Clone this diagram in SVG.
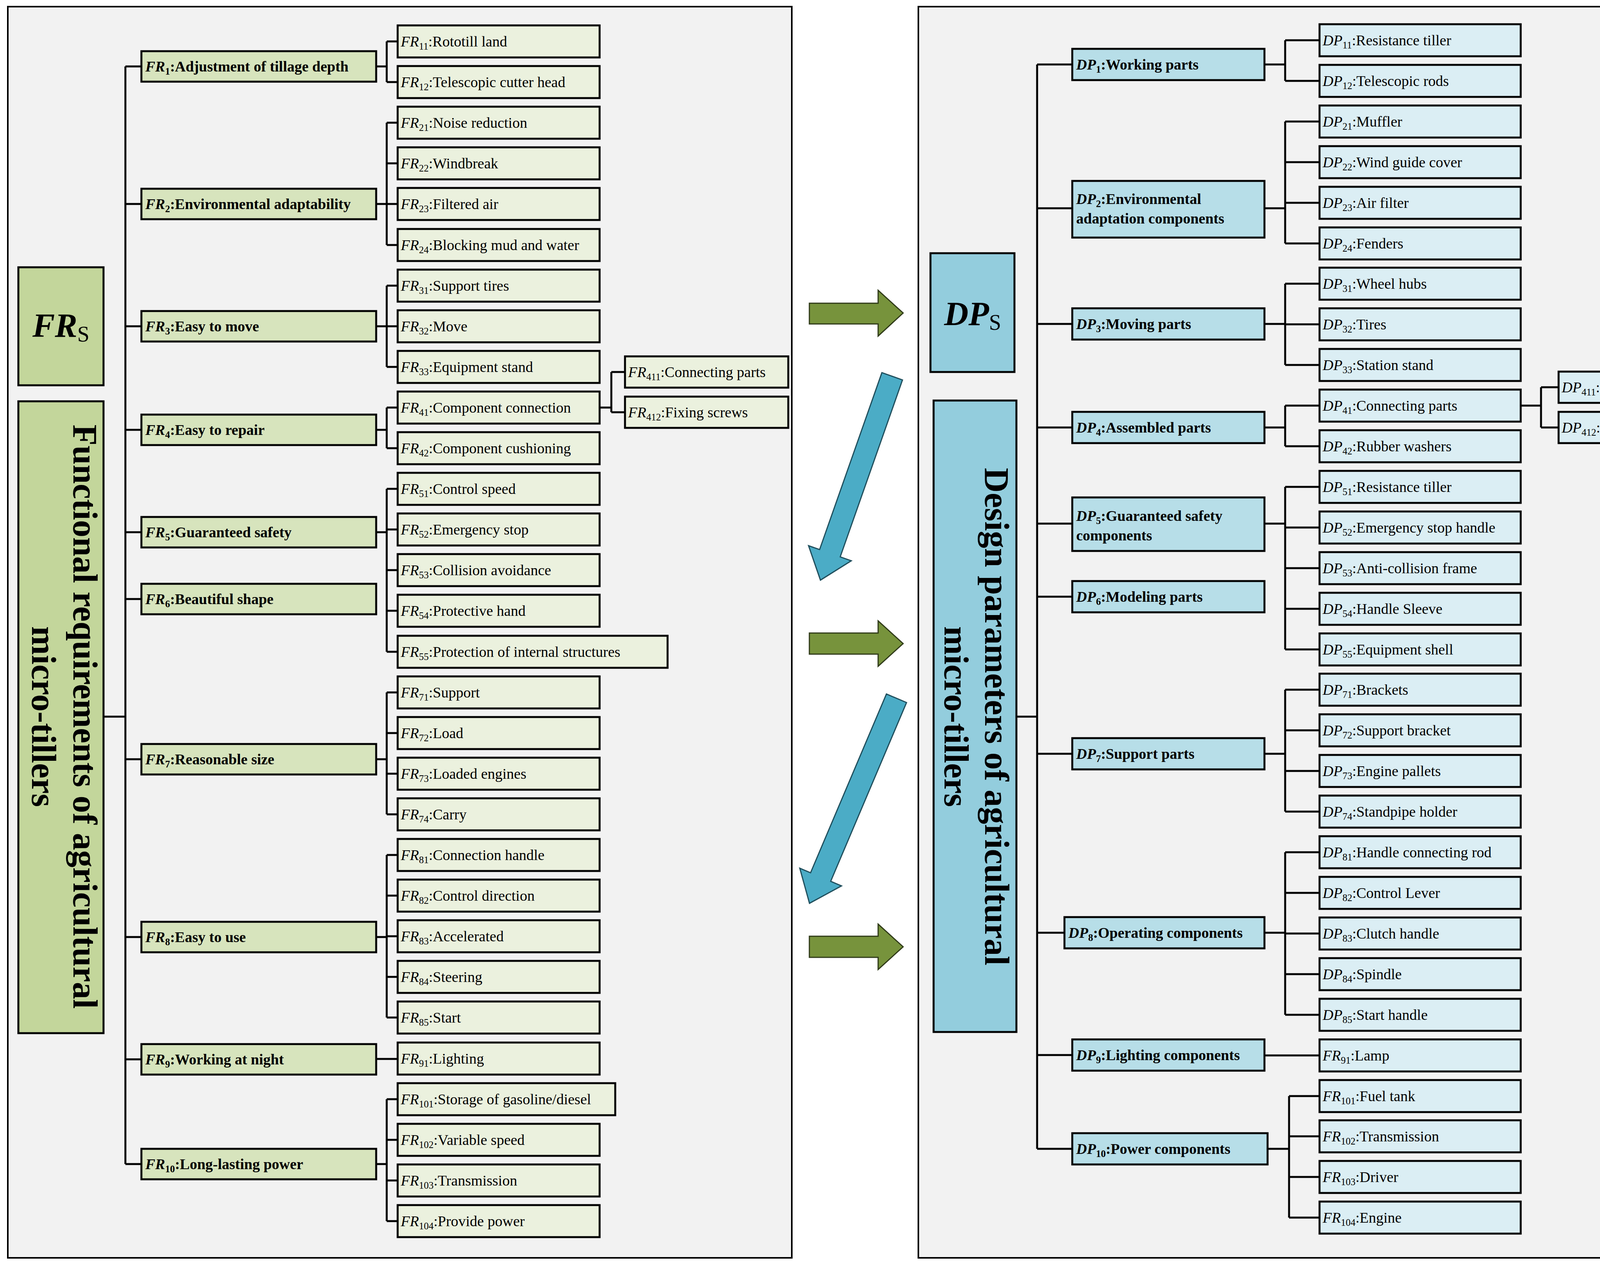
<svg xmlns="http://www.w3.org/2000/svg" width="4378" height="3245" viewBox="0 0 4378 3245">
<style>
text{font-family:"Liberation Serif","Times New Roman",serif;fill:#000}
.t{font-size:38px}
.b{font-size:38px;font-weight:bold}
.i{font-style:italic}
.s{font-size:25px}
.l1{fill:#d7e4bd;stroke:#000;stroke-width:5}
.lf{fill:#ebf1de;stroke:#000;stroke-width:5}
.d1{fill:#b7dee8;stroke:#000;stroke-width:5}
.df{fill:#dbeef4;stroke:#000;stroke-width:5}
.c{fill:none;stroke:#000;stroke-width:5}
.ga{fill:#77933c;stroke:#2f3a18;stroke-width:3}
.ba{fill:#4bacc6;stroke:#1f4e5c;stroke-width:3}
.tt{font-size:88px;font-weight:bold}
</style>
<rect x="20" y="17" width="2007" height="3202" fill="#f2f2f2" stroke="#000" stroke-width="4"/>
<rect x="2351" y="17" width="2004" height="3202" fill="#f2f2f2" stroke="#000" stroke-width="4"/>

<g id="connectors">
<path class="c" d="M265 1834H321M321 170V2979M321 170H362M321 522H362M321 835H362M321 1100H362M321 1362H362M321 1533H362M321 1943H362M321 2398H362M321 2711H362M321 2979H362"/>
<path class="c" d="M963 170H990M990 106V210M990 106H1018M990 210H1018"/>
<path class="c" d="M963 522H990M990 314V627M990 314H1018M990 418H1018M990 522H1018M990 627H1018"/>
<path class="c" d="M963 835H990M990 731V939M990 731H1018M990 835H1018M990 939H1018"/>
<path class="c" d="M963 1100H990M990 1043V1147M990 1043H1018M990 1147H1018"/>
<path class="c" d="M1535 1043H1565M1565 952V1055M1565 952H1600M1565 1055H1600"/>
<path class="c" d="M963 1362H990M990 1251V1668M990 1251H1018M990 1355H1018M990 1459H1018M990 1563H1018M990 1668H1018"/>
<path class="c" d="M963 1943H990M990 1772V2084M990 1772H1018M990 1876H1018M990 1980H1018M990 2084H1018"/>
<path class="c" d="M963 2398H990M990 2188V2604M990 2188H1018M990 2292H1018M990 2396H1018M990 2500H1018M990 2604H1018"/>
<path class="c" d="M963 2710H1018"/>
<path class="c" d="M963 2979H990M990 2813V3125M990 2813H1018M990 2917H1018M990 3021H1018M990 3125H1018"/>

<path class="c" d="M2602 1834H2655M2655 165V2940M2655 165H2745M2655 533H2745M2655 829H2745M2655 1094H2745M2655 1340H2745M2655 1527H2745M2655 1929H2745M2655 2387H2725M2655 2700H2745M2655 2940H2745"/>
<path class="c" d="M3237 165H3290M3290 103V207M3290 103H3378M3290 207H3378"/>
<path class="c" d="M3237 533H3290M3290 311V623M3290 311H3378M3290 415H3378M3290 519H3378M3290 623H3378"/>
<path class="c" d="M3237 829H3290M3290 726V934M3290 726H3378M3290 830H3378M3290 934H3378"/>
<path class="c" d="M3237 1094H3290M3290 1038V1142M3290 1038H3378M3290 1142H3378"/>
<path class="c" d="M3893 1038H3945M3945 991V1094M3945 991H3990M3945 1094H3990"/>
<path class="c" d="M3237 1340H3290M3290 1246V1662M3290 1246H3378M3290 1350H3378M3290 1454H3378M3290 1558H3378M3290 1662H3378"/>
<path class="c" d="M3237 1929H3290M3290 1765V2077M3290 1765H3378M3290 1869H3378M3290 1973H3378M3290 2077H3378"/>
<path class="c" d="M3237 2387H3290M3290 2181V2597M3290 2181H3378M3290 2285H3378M3290 2389H3378M3290 2493H3378M3290 2597H3378"/>
<path class="c" d="M3237 2701H3378"/>
<path class="c" d="M3245 2940H3300M3300 2805V3116M3300 2805H3378M3300 2908H3378M3300 3012H3378M3300 3116H3378"/>
</g>

<g id="FRs"><rect x="47" y="684" width="218" height="302" fill="#c3d69b" stroke="#000" stroke-width="5"/><text x="156" y="862" text-anchor="middle" style="font-size:86px;font-weight:bold"><tspan class="i">FR</tspan><tspan style="font-size:56px;font-weight:normal" dy="12">S</tspan></text></g>
<g id="FRtitle"><rect x="47" y="1027" width="218" height="1617" fill="#c3d69b" stroke="#000" stroke-width="5"/>
<text class="tt" text-anchor="middle" transform="translate(188,1834) rotate(90)">Functional requirements of agricultural</text>
<text class="tt" text-anchor="middle" transform="translate(82,1834) rotate(90)">micro-tillers</text></g>

<g id="FR1"><rect class="l1" x="362" y="131" width="601" height="78"/><text class="b" x="372" y="183"><tspan class="i">FR</tspan><tspan class="s" dy="8">1</tspan><tspan dy="-8">:Adjustment of tillage depth</tspan></text></g>
<g id="FR2"><rect class="l1" x="362" y="483" width="601" height="78"/><text class="b" x="372" y="535"><tspan class="i">FR</tspan><tspan class="s" dy="8">2</tspan><tspan dy="-8">:Environmental adaptability</tspan></text></g>
<g id="FR3"><rect class="l1" x="362" y="796" width="601" height="78"/><text class="b" x="372" y="848"><tspan class="i">FR</tspan><tspan class="s" dy="8">3</tspan><tspan dy="-8">:Easy to move</tspan></text></g>
<g id="FR4"><rect class="l1" x="362" y="1061" width="601" height="78"/><text class="b" x="372" y="1113"><tspan class="i">FR</tspan><tspan class="s" dy="8">4</tspan><tspan dy="-8">:Easy to repair</tspan></text></g>
<g id="FR5"><rect class="l1" x="362" y="1323" width="601" height="78"/><text class="b" x="372" y="1375"><tspan class="i">FR</tspan><tspan class="s" dy="8">5</tspan><tspan dy="-8">:Guaranteed safety</tspan></text></g>
<g id="FR6"><rect class="l1" x="362" y="1494" width="601" height="78"/><text class="b" x="372" y="1546"><tspan class="i">FR</tspan><tspan class="s" dy="8">6</tspan><tspan dy="-8">:Beautiful shape</tspan></text></g>
<g id="FR7"><rect class="l1" x="362" y="1904" width="601" height="78"/><text class="b" x="372" y="1956"><tspan class="i">FR</tspan><tspan class="s" dy="8">7</tspan><tspan dy="-8">:Reasonable size</tspan></text></g>
<g id="FR8"><rect class="l1" x="362" y="2359" width="601" height="78"/><text class="b" x="372" y="2411"><tspan class="i">FR</tspan><tspan class="s" dy="8">8</tspan><tspan dy="-8">:Easy to use</tspan></text></g>
<g id="FR9"><rect class="l1" x="362" y="2672" width="601" height="78"/><text class="b" x="372" y="2724"><tspan class="i">FR</tspan><tspan class="s" dy="8">9</tspan><tspan dy="-8">:Working at night</tspan></text></g>
<g id="FR10"><rect class="l1" x="362" y="2940" width="601" height="78"/><text class="b" x="372" y="2992"><tspan class="i">FR</tspan><tspan class="s" dy="8">10</tspan><tspan dy="-8">:Long-lasting power</tspan></text></g>

<g id="FR11"><rect class="lf" x="1018" y="65" width="517" height="82"/><text class="t" x="1026" y="119"><tspan class="i">FR</tspan><tspan class="s" dy="8">11</tspan><tspan dy="-8">:Rototill land</tspan></text></g>
<g id="FR12"><rect class="lf" x="1018" y="169" width="517" height="82"/><text class="t" x="1026" y="223"><tspan class="i">FR</tspan><tspan class="s" dy="8">12</tspan><tspan dy="-8">:Telescopic cutter head</tspan></text></g>
<g id="FR21"><rect class="lf" x="1018" y="273" width="517" height="82"/><text class="t" x="1026" y="327"><tspan class="i">FR</tspan><tspan class="s" dy="8">21</tspan><tspan dy="-8">:Noise reduction</tspan></text></g>
<g id="FR22"><rect class="lf" x="1018" y="377" width="517" height="82"/><text class="t" x="1026" y="431"><tspan class="i">FR</tspan><tspan class="s" dy="8">22</tspan><tspan dy="-8">:Windbreak</tspan></text></g>
<g id="FR23"><rect class="lf" x="1018" y="481" width="517" height="82"/><text class="t" x="1026" y="535"><tspan class="i">FR</tspan><tspan class="s" dy="8">23</tspan><tspan dy="-8">:Filtered air</tspan></text></g>
<g id="FR24"><rect class="lf" x="1018" y="586" width="517" height="82"/><text class="t" x="1026" y="640"><tspan class="i">FR</tspan><tspan class="s" dy="8">24</tspan><tspan dy="-8">:Blocking mud and water</tspan></text></g>
<g id="FR31"><rect class="lf" x="1018" y="690" width="517" height="82"/><text class="t" x="1026" y="744"><tspan class="i">FR</tspan><tspan class="s" dy="8">31</tspan><tspan dy="-8">:Support tires</tspan></text></g>
<g id="FR32"><rect class="lf" x="1018" y="794" width="517" height="82"/><text class="t" x="1026" y="848"><tspan class="i">FR</tspan><tspan class="s" dy="8">32</tspan><tspan dy="-8">:Move</tspan></text></g>
<g id="FR33"><rect class="lf" x="1018" y="898" width="517" height="82"/><text class="t" x="1026" y="952"><tspan class="i">FR</tspan><tspan class="s" dy="8">33</tspan><tspan dy="-8">:Equipment stand</tspan></text></g>
<g id="FR41"><rect class="lf" x="1018" y="1002" width="517" height="82"/><text class="t" x="1026" y="1056"><tspan class="i">FR</tspan><tspan class="s" dy="8">41</tspan><tspan dy="-8">:Component connection</tspan></text></g>
<g id="FR42"><rect class="lf" x="1018" y="1106" width="517" height="82"/><text class="t" x="1026" y="1160"><tspan class="i">FR</tspan><tspan class="s" dy="8">42</tspan><tspan dy="-8">:Component cushioning</tspan></text></g>
<g id="FR411"><rect class="lf" x="1600" y="912" width="418" height="80"/><text class="t" x="1608" y="965"><tspan class="i">FR</tspan><tspan class="s" dy="8">411</tspan><tspan dy="-8">:Connecting parts</tspan></text></g>
<g id="FR412"><rect class="lf" x="1600" y="1015" width="418" height="80"/><text class="t" x="1608" y="1068"><tspan class="i">FR</tspan><tspan class="s" dy="8">412</tspan><tspan dy="-8">:Fixing screws</tspan></text></g>
<g id="FR51"><rect class="lf" x="1018" y="1210" width="517" height="82"/><text class="t" x="1026" y="1264"><tspan class="i">FR</tspan><tspan class="s" dy="8">51</tspan><tspan dy="-8">:Control speed</tspan></text></g>
<g id="FR52"><rect class="lf" x="1018" y="1314" width="517" height="82"/><text class="t" x="1026" y="1368"><tspan class="i">FR</tspan><tspan class="s" dy="8">52</tspan><tspan dy="-8">:Emergency stop</tspan></text></g>
<g id="FR53"><rect class="lf" x="1018" y="1418" width="517" height="82"/><text class="t" x="1026" y="1472"><tspan class="i">FR</tspan><tspan class="s" dy="8">53</tspan><tspan dy="-8">:Collision avoidance</tspan></text></g>
<g id="FR54"><rect class="lf" x="1018" y="1522" width="517" height="82"/><text class="t" x="1026" y="1576"><tspan class="i">FR</tspan><tspan class="s" dy="8">54</tspan><tspan dy="-8">:Protective hand</tspan></text></g>
<g id="FR55"><rect class="lf" x="1018" y="1627" width="691" height="82"/><text class="t" x="1026" y="1681"><tspan class="i">FR</tspan><tspan class="s" dy="8">55</tspan><tspan dy="-8">:Protection of internal structures</tspan></text></g>
<g id="FR71"><rect class="lf" x="1018" y="1731" width="517" height="82"/><text class="t" x="1026" y="1785"><tspan class="i">FR</tspan><tspan class="s" dy="8">71</tspan><tspan dy="-8">:Support</tspan></text></g>
<g id="FR72"><rect class="lf" x="1018" y="1835" width="517" height="82"/><text class="t" x="1026" y="1889"><tspan class="i">FR</tspan><tspan class="s" dy="8">72</tspan><tspan dy="-8">:Load</tspan></text></g>
<g id="FR73"><rect class="lf" x="1018" y="1939" width="517" height="82"/><text class="t" x="1026" y="1993"><tspan class="i">FR</tspan><tspan class="s" dy="8">73</tspan><tspan dy="-8">:Loaded engines</tspan></text></g>
<g id="FR74"><rect class="lf" x="1018" y="2043" width="517" height="82"/><text class="t" x="1026" y="2097"><tspan class="i">FR</tspan><tspan class="s" dy="8">74</tspan><tspan dy="-8">:Carry</tspan></text></g>
<g id="FR81"><rect class="lf" x="1018" y="2147" width="517" height="82"/><text class="t" x="1026" y="2201"><tspan class="i">FR</tspan><tspan class="s" dy="8">81</tspan><tspan dy="-8">:Connection handle</tspan></text></g>
<g id="FR82"><rect class="lf" x="1018" y="2251" width="517" height="82"/><text class="t" x="1026" y="2305"><tspan class="i">FR</tspan><tspan class="s" dy="8">82</tspan><tspan dy="-8">:Control direction</tspan></text></g>
<g id="FR83"><rect class="lf" x="1018" y="2355" width="517" height="82"/><text class="t" x="1026" y="2409"><tspan class="i">FR</tspan><tspan class="s" dy="8">83</tspan><tspan dy="-8">:Accelerated</tspan></text></g>
<g id="FR84"><rect class="lf" x="1018" y="2459" width="517" height="82"/><text class="t" x="1026" y="2513"><tspan class="i">FR</tspan><tspan class="s" dy="8">84</tspan><tspan dy="-8">:Steering</tspan></text></g>
<g id="FR85"><rect class="lf" x="1018" y="2563" width="517" height="82"/><text class="t" x="1026" y="2617"><tspan class="i">FR</tspan><tspan class="s" dy="8">85</tspan><tspan dy="-8">:Start</tspan></text></g>
<g id="FR91"><rect class="lf" x="1018" y="2668" width="517" height="82"/><text class="t" x="1026" y="2722"><tspan class="i">FR</tspan><tspan class="s" dy="8">91</tspan><tspan dy="-8">:Lighting</tspan></text></g>
<g id="FR101"><rect class="lf" x="1018" y="2772" width="557" height="82"/><text class="t" x="1026" y="2826"><tspan class="i">FR</tspan><tspan class="s" dy="8">101</tspan><tspan dy="-8">:Storage of gasoline/diesel</tspan></text></g>
<g id="FR102"><rect class="lf" x="1018" y="2876" width="517" height="82"/><text class="t" x="1026" y="2930"><tspan class="i">FR</tspan><tspan class="s" dy="8">102</tspan><tspan dy="-8">:Variable speed</tspan></text></g>
<g id="FR103"><rect class="lf" x="1018" y="2980" width="517" height="82"/><text class="t" x="1026" y="3034"><tspan class="i">FR</tspan><tspan class="s" dy="8">103</tspan><tspan dy="-8">:Transmission</tspan></text></g>
<g id="FR104"><rect class="lf" x="1018" y="3084" width="517" height="82"/><text class="t" x="1026" y="3138"><tspan class="i">FR</tspan><tspan class="s" dy="8">104</tspan><tspan dy="-8">:Provide power</tspan></text></g>

<g id="arrows">
<polygon class="ga" points="2072,776 2248,776 2248,743 2312,801 2248,860 2248,829 2072,829"/>
<polygon class="ga" points="2072,1620 2248,1620 2248,1589 2312,1647 2248,1705 2248,1674 2072,1674"/>
<polygon class="ga" points="2072,2396 2248,2396 2248,2365 2312,2423 2248,2481 2248,2450 2072,2450"/>
<polygon class="ba" transform="translate(2284,963) rotate(109.4)" points="0,-28 480,-28 480,-58 553,0 480,58 480,28 0,28"/>
<polygon class="ba" transform="translate(2295,1787) rotate(113)" points="0,-28 497,-28 497,-58 570,0 497,58 497,28 0,28"/>
</g>

<g id="DPs"><rect x="2382" y="648" width="215" height="304" fill="#93cddd" stroke="#000" stroke-width="5"/><text x="2490" y="832" text-anchor="middle" style="font-size:86px;font-weight:bold"><tspan class="i">DP</tspan><tspan style="font-size:56px;font-weight:normal" dy="12">S</tspan></text></g>
<g id="DPtitle"><rect x="2390" y="1025" width="212" height="1616" fill="#93cddd" stroke="#000" stroke-width="5"/>
<text class="tt" text-anchor="middle" transform="translate(2522,1834) rotate(90)">Design parameters of agricultural</text>
<text class="tt" text-anchor="middle" transform="translate(2418,1834) rotate(90)">micro-tillers</text></g>

<g id="DP1"><rect class="d1" x="2745" y="125" width="492" height="80"/><text class="b" x="2755" y="178"><tspan class="i">DP</tspan><tspan class="s" dy="8">1</tspan><tspan dy="-8">:Working parts</tspan></text></g>
<g id="DP2"><rect class="d1" x="2745" y="463" width="492" height="145"/><text class="b" x="2755" y="522"><tspan class="i">DP</tspan><tspan class="s" dy="8">2</tspan><tspan dy="-8">:Environmental</tspan></text><text class="b" x="2755" y="572">adaptation components</text></g>
<g id="DP3"><rect class="d1" x="2745" y="789" width="492" height="80"/><text class="b" x="2755" y="842"><tspan class="i">DP</tspan><tspan class="s" dy="8">3</tspan><tspan dy="-8">:Moving parts</tspan></text></g>
<g id="DP4"><rect class="d1" x="2745" y="1054" width="492" height="80"/><text class="b" x="2755" y="1107"><tspan class="i">DP</tspan><tspan class="s" dy="8">4</tspan><tspan dy="-8">:Assembled parts</tspan></text></g>
<g id="DP5"><rect class="d1" x="2745" y="1273" width="492" height="137"/><text class="b" x="2755" y="1333"><tspan class="i">DP</tspan><tspan class="s" dy="8">5</tspan><tspan dy="-8">:Guaranteed safety</tspan></text><text class="b" x="2755" y="1383">components</text></g>
<g id="DP6"><rect class="d1" x="2745" y="1487" width="492" height="80"/><text class="b" x="2755" y="1540"><tspan class="i">DP</tspan><tspan class="s" dy="8">6</tspan><tspan dy="-8">:Modeling parts</tspan></text></g>
<g id="DP7"><rect class="d1" x="2745" y="1889" width="492" height="80"/><text class="b" x="2755" y="1942"><tspan class="i">DP</tspan><tspan class="s" dy="8">7</tspan><tspan dy="-8">:Support parts</tspan></text></g>
<g id="DP8"><rect class="d1" x="2725" y="2347" width="512" height="80"/><text class="b" x="2735" y="2400"><tspan class="i">DP</tspan><tspan class="s" dy="8">8</tspan><tspan dy="-8">:Operating components</tspan></text></g>
<g id="DP9"><rect class="d1" x="2745" y="2660" width="492" height="80"/><text class="b" x="2755" y="2713"><tspan class="i">DP</tspan><tspan class="s" dy="8">9</tspan><tspan dy="-8">:Lighting components</tspan></text></g>
<g id="DP10"><rect class="d1" x="2745" y="2900" width="500" height="80"/><text class="b" x="2755" y="2953"><tspan class="i">DP</tspan><tspan class="s" dy="8">10</tspan><tspan dy="-8">:Power components</tspan></text></g>

<g id="DP11"><rect class="df" x="3378" y="62" width="515" height="82"/><text class="t" x="3386" y="116"><tspan class="i">DP</tspan><tspan class="s" dy="8">11</tspan><tspan dy="-8">:Resistance tiller</tspan></text></g>
<g id="DP12"><rect class="df" x="3378" y="166" width="515" height="82"/><text class="t" x="3386" y="220"><tspan class="i">DP</tspan><tspan class="s" dy="8">12</tspan><tspan dy="-8">:Telescopic rods</tspan></text></g>
<g id="DP21"><rect class="df" x="3378" y="270" width="515" height="82"/><text class="t" x="3386" y="324"><tspan class="i">DP</tspan><tspan class="s" dy="8">21</tspan><tspan dy="-8">:Muffler</tspan></text></g>
<g id="DP22"><rect class="df" x="3378" y="374" width="515" height="82"/><text class="t" x="3386" y="428"><tspan class="i">DP</tspan><tspan class="s" dy="8">22</tspan><tspan dy="-8">:Wind guide cover</tspan></text></g>
<g id="DP23"><rect class="df" x="3378" y="478" width="515" height="82"/><text class="t" x="3386" y="532"><tspan class="i">DP</tspan><tspan class="s" dy="8">23</tspan><tspan dy="-8">:Air filter</tspan></text></g>
<g id="DP24"><rect class="df" x="3378" y="582" width="515" height="82"/><text class="t" x="3386" y="636"><tspan class="i">DP</tspan><tspan class="s" dy="8">24</tspan><tspan dy="-8">:Fenders</tspan></text></g>
<g id="DP31"><rect class="df" x="3378" y="685" width="515" height="82"/><text class="t" x="3386" y="739"><tspan class="i">DP</tspan><tspan class="s" dy="8">31</tspan><tspan dy="-8">:Wheel hubs</tspan></text></g>
<g id="DP32"><rect class="df" x="3378" y="789" width="515" height="82"/><text class="t" x="3386" y="843"><tspan class="i">DP</tspan><tspan class="s" dy="8">32</tspan><tspan dy="-8">:Tires</tspan></text></g>
<g id="DP33"><rect class="df" x="3378" y="893" width="515" height="82"/><text class="t" x="3386" y="947"><tspan class="i">DP</tspan><tspan class="s" dy="8">33</tspan><tspan dy="-8">:Station stand</tspan></text></g>
<g id="DP41"><rect class="df" x="3378" y="997" width="515" height="82"/><text class="t" x="3386" y="1051"><tspan class="i">DP</tspan><tspan class="s" dy="8">41</tspan><tspan dy="-8">:Connecting parts</tspan></text></g>
<g id="DP42"><rect class="df" x="3378" y="1101" width="515" height="82"/><text class="t" x="3386" y="1155"><tspan class="i">DP</tspan><tspan class="s" dy="8">42</tspan><tspan dy="-8">:Rubber washers</tspan></text></g>
<g id="DP411"><rect class="df" x="3990" y="951" width="320" height="80"/><text class="t" x="3998" y="1004"><tspan class="i">DP</tspan><tspan class="s" dy="8">411</tspan><tspan dy="-8">:Screws</tspan></text></g>
<g id="DP412"><rect class="df" x="3990" y="1054" width="320" height="80"/><text class="t" x="3998" y="1107"><tspan class="i">DP</tspan><tspan class="s" dy="8">412</tspan><tspan dy="-8">:Nuts</tspan></text></g>
<g id="DP51"><rect class="df" x="3378" y="1205" width="515" height="82"/><text class="t" x="3386" y="1259"><tspan class="i">DP</tspan><tspan class="s" dy="8">51</tspan><tspan dy="-8">:Resistance tiller</tspan></text></g>
<g id="DP52"><rect class="df" x="3378" y="1309" width="515" height="82"/><text class="t" x="3386" y="1363"><tspan class="i">DP</tspan><tspan class="s" dy="8">52</tspan><tspan dy="-8">:Emergency stop handle</tspan></text></g>
<g id="DP53"><rect class="df" x="3378" y="1413" width="515" height="82"/><text class="t" x="3386" y="1467"><tspan class="i">DP</tspan><tspan class="s" dy="8">53</tspan><tspan dy="-8">:Anti-collision frame</tspan></text></g>
<g id="DP54"><rect class="df" x="3378" y="1517" width="515" height="82"/><text class="t" x="3386" y="1571"><tspan class="i">DP</tspan><tspan class="s" dy="8">54</tspan><tspan dy="-8">:Handle Sleeve</tspan></text></g>
<g id="DP55"><rect class="df" x="3378" y="1621" width="515" height="82"/><text class="t" x="3386" y="1675"><tspan class="i">DP</tspan><tspan class="s" dy="8">55</tspan><tspan dy="-8">:Equipment shell</tspan></text></g>
<g id="DP71"><rect class="df" x="3378" y="1724" width="515" height="82"/><text class="t" x="3386" y="1778"><tspan class="i">DP</tspan><tspan class="s" dy="8">71</tspan><tspan dy="-8">:Brackets</tspan></text></g>
<g id="DP72"><rect class="df" x="3378" y="1828" width="515" height="82"/><text class="t" x="3386" y="1882"><tspan class="i">DP</tspan><tspan class="s" dy="8">72</tspan><tspan dy="-8">:Support bracket</tspan></text></g>
<g id="DP73"><rect class="df" x="3378" y="1932" width="515" height="82"/><text class="t" x="3386" y="1986"><tspan class="i">DP</tspan><tspan class="s" dy="8">73</tspan><tspan dy="-8">:Engine pallets</tspan></text></g>
<g id="DP74"><rect class="df" x="3378" y="2036" width="515" height="82"/><text class="t" x="3386" y="2090"><tspan class="i">DP</tspan><tspan class="s" dy="8">74</tspan><tspan dy="-8">:Standpipe holder</tspan></text></g>
<g id="DP81"><rect class="df" x="3378" y="2140" width="515" height="82"/><text class="t" x="3386" y="2194"><tspan class="i">DP</tspan><tspan class="s" dy="8">81</tspan><tspan dy="-8">:Handle connecting rod</tspan></text></g>
<g id="DP82"><rect class="df" x="3378" y="2244" width="515" height="82"/><text class="t" x="3386" y="2298"><tspan class="i">DP</tspan><tspan class="s" dy="8">82</tspan><tspan dy="-8">:Control Lever</tspan></text></g>
<g id="DP83"><rect class="df" x="3378" y="2348" width="515" height="82"/><text class="t" x="3386" y="2402"><tspan class="i">DP</tspan><tspan class="s" dy="8">83</tspan><tspan dy="-8">:Clutch handle</tspan></text></g>
<g id="DP84"><rect class="df" x="3378" y="2452" width="515" height="82"/><text class="t" x="3386" y="2506"><tspan class="i">DP</tspan><tspan class="s" dy="8">84</tspan><tspan dy="-8">:Spindle</tspan></text></g>
<g id="DP85"><rect class="df" x="3378" y="2556" width="515" height="82"/><text class="t" x="3386" y="2610"><tspan class="i">DP</tspan><tspan class="s" dy="8">85</tspan><tspan dy="-8">:Start handle</tspan></text></g>
<g id="DP91"><rect class="df" x="3378" y="2660" width="515" height="82"/><text class="t" x="3386" y="2714"><tspan class="i">FR</tspan><tspan class="s" dy="8">91</tspan><tspan dy="-8">:Lamp</tspan></text></g>
<g id="DP101"><rect class="df" x="3378" y="2764" width="515" height="82"/><text class="t" x="3386" y="2818"><tspan class="i">FR</tspan><tspan class="s" dy="8">101</tspan><tspan dy="-8">:Fuel tank</tspan></text></g>
<g id="DP102"><rect class="df" x="3378" y="2867" width="515" height="82"/><text class="t" x="3386" y="2921"><tspan class="i">FR</tspan><tspan class="s" dy="8">102</tspan><tspan dy="-8">:Transmission</tspan></text></g>
<g id="DP103"><rect class="df" x="3378" y="2971" width="515" height="82"/><text class="t" x="3386" y="3025"><tspan class="i">FR</tspan><tspan class="s" dy="8">103</tspan><tspan dy="-8">:Driver</tspan></text></g>
<g id="DP104"><rect class="df" x="3378" y="3075" width="515" height="82"/><text class="t" x="3386" y="3129"><tspan class="i">FR</tspan><tspan class="s" dy="8">104</tspan><tspan dy="-8">:Engine</tspan></text></g>
</svg>
